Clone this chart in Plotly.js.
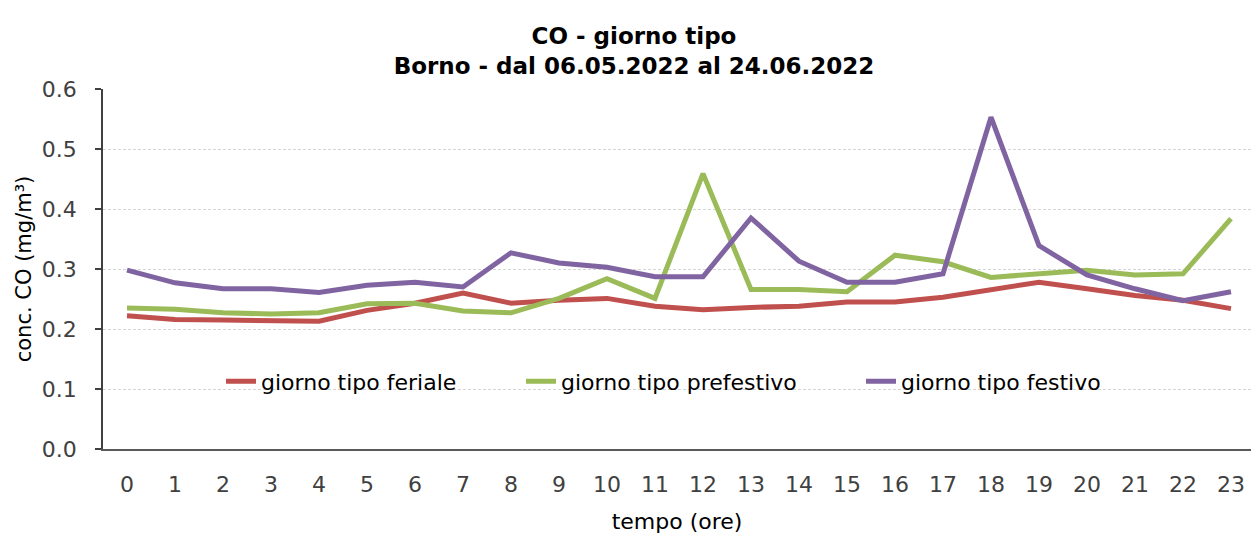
<!DOCTYPE html>
<html>
<head>
<meta charset="utf-8">
<script src="https://cdn.plot.ly/plotly-3.0.1.min.js"></script>
<style>
html,body{margin:0;padding:0;background:#fff;overflow:hidden;}
#chart{width:1251px;height:538px;}
</style>
</head>
<body>
<div id="chart"></div>
<script>
// ---- data ----
var hours = [0,1,2,3,4,5,6,7,8,9,10,11,12,13,14,15,16,17,18,19,20,21,22,23];
var hourLabels = hours.map(function(h){return String(h);});
var seriesNames = ["giorno tipo feriale", "giorno tipo prefestivo", "giorno tipo festivo"];
var feriale = [0.222,0.216,0.215,0.213,0.213,0.231,0.243,0.260,0.243,0.248,0.251,0.238,0.232,0.236,0.238,0.245,0.245,0.253,0.265,0.278,0.267,0.256,0.248,0.234];
var prefestivo = [0.235,0.233,0.227,0.225,0.227,0.242,0.243,0.230,0.227,0.251,0.284,0.251,0.459,0.266,0.266,0.262,0.323,0.312,0.286,0.291,0.298,0.290,0.292,0.384];
var festivo = [0.298,0.277,0.267,0.267,0.261,0.273,0.278,0.270,0.327,0.310,0.303,0.287,0.287,0.385,0.313,0.278,0.278,0.292,0.553,0.339,0.290,0.267,0.247,0.262];
var colors = ["#C0504D", "#9BBB59", "#8064A2"];

var FONT = "'DejaVu Sans', 'Open Sans', sans-serif";
var values = [feriale, prefestivo, festivo];
var legends = ["legend", "legend2", "legend3"];

var traces = values.map(function(v, i){
  return {
    type: "scatter", mode: "lines",
    x: hours, y: v, name: seriesNames[i],
    line: {color: colors[i], width: 5},
    legend: legends[i],
    hoverinfo: "x+y+name"
  };
});

var legendBase = {
  orientation: "h", yanchor: "middle", y: 0.1875, xanchor: "left",
  bgcolor: "rgba(0,0,0,0)", borderwidth: 0,
  font: {family: FONT, size: 22, color: "#000"}
};
function lg(x){ var o = JSON.parse(JSON.stringify(legendBase)); o.x = x; return o; }

var gridColor = "#d4d4d4";
var layout = {
  width: 1251, height: 538,
  margin: {l: 103, r: 0, t: 89, b: 89},
  paper_bgcolor: "#fff", plot_bgcolor: "#fff",
  font: {family: FONT, color: "#404040"},
  title: {
    text: "<b>CO - giorno tipo<br>Borno - dal 06.05.2022 al 24.06.2022</b>",
    font: {family: FONT, size: 23, color: "#000"},
    x: 634/1251, xanchor: "center", xref: "container",
    y: 1 - 44/538, yanchor: "middle", yref: "container"
  },
  xaxis: {
    type: "linear", range: [-0.5, 23.417],
    tickmode: "array", tickvals: hours, ticktext: hourLabels,
    ticks: "", ticklabelstandoff: 15,
    tickfont: {family: FONT, size: 22, color: "#404040"},
    showgrid: false, zeroline: false,
    showline: true, linecolor: "#595959", linewidth: 2,
    title: {text: "tempo (ore)", font: {family: FONT, size: 22, color: "#000"}, standoff: 17},
    fixedrange: true
  },
  xaxis2: {
    type: "linear", range: [-0.5, 23.417], overlaying: "x", anchor: "y", side: "bottom",
    tickmode: "linear", tick0: -0.5, dtick: 2,
    ticks: "outside", ticklen: 8, tickwidth: 1.5, tickcolor: "#404040",
    showticklabels: false,
    showgrid: true, gridcolor: gridColor, gridwidth: 1, griddash: "3px,2px",
    minor: {tick0: -0.5, dtick: 1, ticks: "outside", ticklen: 6, tickwidth: 1.5, tickcolor: "#404040", showgrid: false},
    zeroline: false, showline: false, fixedrange: true
  },
  yaxis: {
    range: [0, 0.6], tickmode: "linear", tick0: 0, dtick: 0.1, tickformat: ".1f",
    ticks: "outside", ticklen: 6, tickwidth: 1.5, tickcolor: "#404040",
    ticklabelstandoff: 14,
    tickfont: {family: FONT, size: 22, color: "#404040"},
    showgrid: true, gridcolor: gridColor, gridwidth: 1, griddash: "3px,2px",
    zeroline: false, showline: true, linecolor: "#404040", linewidth: 1.5,
    title: {text: "conc. CO (mg/m³)", font: {family: FONT, size: 21, color: "#000"}, standoff: 4},
    fixedrange: true
  },
  legend: lg((226 - 103 - 5) / 1148),
  legend2: lg((526 - 103 - 5) / 1148),
  legend3: lg((866 - 103 - 5) / 1148),
  showlegend: true
};

Plotly.newPlot("chart", traces, layout, {displayModeBar: false, staticPlot: false});
</script>
</body>
</html>
